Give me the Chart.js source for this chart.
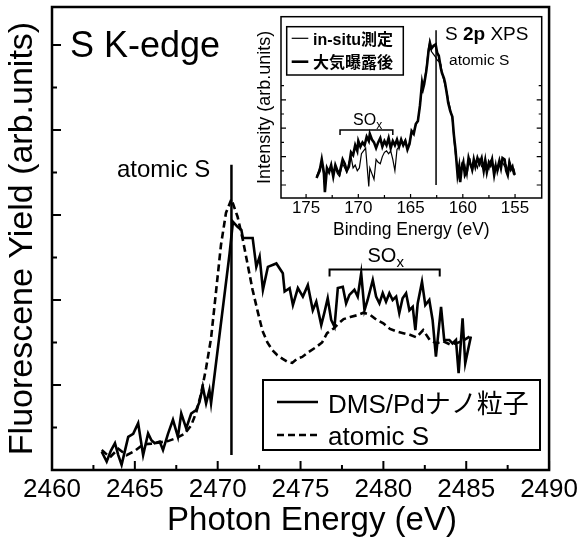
<!DOCTYPE html>
<html><head><meta charset="utf-8">
<script src="https://cdn.jsdelivr.net/npm/chart.js@4.4.1/dist/chart.umd.min.js"></script>
<style>
html,body{margin:0;padding:0;background:#fff;}
#wrap{position:relative;width:582px;height:542px;overflow:hidden;}
#main{position:absolute;left:0;top:0;}
#inset{position:absolute;left:240px;top:0;}
</style></head><body>
<div id="wrap"><canvas id="main" width="582" height="542"></canvas><canvas id="inset" width="320" height="250"></canvas></div>
<script>
const FONT = "'Liberation Sans', Arial, 'Noto Sans CJK JP', sans-serif";

// ---------- main chart data ----------
const mainSeriesNames = ["DMS/Pdナノ粒子", "atomic S"];
const mainXTitle = "Photon Energy (eV)";
const mainXTicks = [2460, 2465, 2470, 2475, 2480, 2485, 2490];
const mainXTickLabels = ["2460", "2465", "2470", "2475", "2480", "2485", "2490"];
const mainXMinorTicks = [2462.5, 2467.5, 2472.5, 2477.5, 2482.5, 2487.5];
const mainYMajorTicks = [2, 4, 6, 8, 10];
const mainYMinorTicks = [1, 3, 5, 7, 9];

const dmsX = [2463.0,2463.3,2463.55,2463.8,2464.0,2464.2,2464.4,2464.6,2464.9,2465.2,2465.5,2465.8,2466.0,2466.2,2466.5,2466.7,2467.0,2467.3,2467.6,2467.8,2468.1,2468.4,2468.7,2468.9,2469.1,2469.3,2469.5,2469.6,2470.72,2470.92,2471.2,2471.43,2471.52,2471.93,2472.11,2472.33,2472.53,2472.73,2473.03,2473.54,2473.93,2474.04,2474.34,2474.54,2474.84,2475.14,2475.44,2475.74,2475.95,2476.25,2476.45,2476.64,2476.85,2477.05,2477.25,2477.55,2477.75,2477.95,2478.25,2478.45,2478.66,2478.86,2479.05,2479.36,2479.56,2479.76,2479.96,2480.16,2480.36,2480.56,2480.77,2480.96,2481.16,2481.37,2481.57,2481.77,2481.93,2482.07,2482.33,2482.53,2482.77,2482.97,2483.17,2483.48,2483.67,2483.98,2484.17,2484.38,2484.54,2484.78,2484.94,2485.28];
const dmsY = [0.43,0.20,0.45,0.63,0.35,0.12,0.45,0.78,0.85,1.10,0.35,0.86,0.70,0.63,0.67,0.47,0.85,1.18,0.78,1.33,0.98,1.33,1.41,1.60,1.96,1.57,1.88,1.57,5.10,5.84,5.72,5.65,5.46,5.46,5.46,4.78,5.02,4.24,4.78,4.86,4.63,4.20,4.28,3.88,4.28,4.08,4.35,3.76,3.96,3.41,3.72,4.04,3.53,3.37,4.28,4.31,3.92,4.12,4.24,4.08,4.63,3.76,4.00,4.47,4.08,3.92,4.16,3.96,4.16,4.00,4.08,3.69,4.04,4.16,3.76,3.84,3.29,3.92,4.43,3.88,4.00,3.53,2.67,3.84,3.06,3.06,2.98,3.06,2.28,3.57,2.51,3.14];

const atomX = [2463.0,2463.5,2464.0,2464.5,2465.0,2465.5,2466.0,2466.5,2467.0,2467.5,2468.0,2468.4,2468.7,2469.0,2469.3,2469.6,2469.9,2470.2,2470.5,2470.83,2471.2,2471.5,2471.8,2472.1,2472.4,2472.7,2473.0,2473.3,2473.6,2473.9,2474.2,2474.5,2474.8,2475.1,2475.5,2475.9,2476.3,2476.6,2477.0,2477.3,2477.6,2478.0,2478.4,2478.8,2479.2,2479.6,2480.0,2480.4,2480.8,2481.2,2481.6,2482.0,2482.4,2482.8,2483.2,2483.6,2484.0,2484.4,2484.8,2485.2];
const atomY = [0.47,0.30,0.50,0.35,0.45,0.60,0.62,0.65,0.68,0.75,0.85,1.05,1.35,1.80,2.40,3.10,4.20,5.30,6.05,6.37,5.96,5.45,4.85,4.25,3.75,3.28,3.00,2.82,2.70,2.62,2.55,2.52,2.62,2.66,2.78,2.88,3.00,3.22,3.33,3.45,3.55,3.60,3.64,3.70,3.65,3.53,3.45,3.32,3.26,3.22,3.18,3.12,3.29,3.06,2.98,3.03,2.96,2.98,3.04,3.14];

const mainEdgeLineX = 2470.83;          // vertical "atomic S" marker
const mainEdgeLineY = [0.35, 7.18];
const mainSoxBracketX = [2476.75, 2483.4];
const mainSoxBracketY = [4.72, 4.55];

// ---------- inset data ----------
const insetSeriesNames = ["in-situ測定", "大気曝露後"];
const insetXTicks = [175, 170, 165, 160, 155];
const insetXTickLabels = ["175", "170", "165", "160", "155"];
const insetXMinorTicks = [172.5, 167.5, 162.5, 157.5];
const insetYMajorTicks = [0, 2, 4, 6];
const insetYMinorTicks = [1, 3, 5, 7];

const airX = [174.0,173.7,173.5,173.3,173.2,173.0,172.8,172.6,172.4,172.2,172.0,171.8,171.5,171.3,171.1,170.9,170.7,170.5,170.3,170.1,170.0,169.8,169.6,169.4,169.2,169.0,168.9,168.7,168.5,168.3,168.1,167.9,167.7,167.5,167.3,167.1,166.9,166.7,166.5,166.3,166.1,165.9,165.7,165.5,165.3,165.1,164.9,164.7,164.5,164.3,164.1,163.9,163.8,163.7,163.5,163.4,163.3,163.15,163.0,162.8,162.6,162.45,162.3,162.1,162.0,161.8,161.7,161.5,161.4,161.2,161.0,160.85,160.7,160.5,160.35,160.25,160.1,159.95,159.8,159.6,159.45,159.3,159.1,158.95,158.8,158.6,158.4,158.2,158.0,157.85,157.7,157.5,157.35,157.2,157.0,156.85,156.7,156.5,156.35,156.2,156.0,155.85,155.7,155.55,155.4,155.25,155.1,155.0];
const airY = [0.5,1.0,1.8,0.9,-0.5,1.2,0.9,1.4,0.6,1.4,1.0,0.8,1.8,1.5,1.0,1.3,2.3,2.1,2.8,2.4,3.1,2.7,3.0,2.8,3.4,3.1,3.6,3.2,3.0,2.6,3.0,3.3,2.7,3.1,2.8,3.3,2.6,3.1,2.8,3.2,2.7,3.2,2.8,3.1,2.5,2.9,3.8,3.6,4.3,4.5,5.6,7.2,6.8,7.1,8.0,8.6,9.3,10.0,9.6,9.8,9.9,9.3,9.1,8.2,7.9,7.5,7.2,6.3,5.8,5.2,4.8,3.5,2.5,0.7,1.3,0.2,1.2,1.6,0.7,1.0,1.9,1.5,1.1,1.8,1.3,1.9,1.5,1.9,1.0,1.7,0.9,1.6,1.4,1.8,0.7,1.3,1.1,1.7,1.2,1.9,1.8,1.0,0.7,1.5,1.1,1.3,0.8,0.7];

const insituX = [174.0,173.7,173.5,173.3,173.2,173.0,172.8,172.6,172.4,172.2,172.0,171.8,171.5,171.3,171.1,170.9,170.7,170.5,170.3,170.1,169.9,169.7,169.5,169.3,169.1,169.0,168.9,168.7,168.5,168.3,168.1,167.9,167.7,167.5,167.3,167.1,166.9,166.7,166.5,166.3,166.1,165.9,165.7,165.5,165.3,165.1,164.9,164.7,164.5,164.3,164.1,163.9,163.8,163.7,163.5,163.4,163.3,163.15,163.0,162.8,162.6,162.45,162.3,162.1,162.0,161.8,161.7,161.5,161.4,161.2,161.0,160.85,160.7,160.5,160.35,160.25,160.1,159.95,159.8,159.6,159.45,159.3,159.1,158.95,158.8,158.6,158.4,158.2,158.0,157.85,157.7,157.5,157.35,157.2,157.0,156.85,156.7,156.5,156.35,156.2,156.0,155.85,155.7,155.55,155.4,155.25,155.1,155.0];
const insituY = [0.6,1.2,1.5,0.7,-0.3,1.0,1.1,1.2,0.8,1.2,0.8,0.6,1.5,1.2,0.9,1.6,2.0,1.2,1.4,1.0,1.2,2.2,2.4,2.6,0.8,-0.1,1.2,0.8,0.4,1.8,1.6,1.5,2.0,2.3,2.4,2.2,2.4,1.8,1.0,2.5,2.7,3.0,2.9,3.2,2.6,3.0,3.6,3.7,4.2,4.6,5.5,7.0,7.1,7.3,8.2,8.9,9.6,10.1,9.4,9.2,9.0,8.8,8.7,8.5,8.0,7.3,7.0,6.5,6.0,5.4,4.6,3.2,2.1,1.2,0.5,0.8,1.5,1.2,1.4,0.6,1.6,1.8,0.9,1.5,1.6,1.2,1.8,1.3,1.2,1.9,1.3,1.1,1.7,1.5,1.0,1.6,0.8,1.4,1.5,1.6,1.3,1.4,1.0,1.8,1.4,1.0,1.1,0.8];

const insetEdgeLineX = 162.56;
const insetEdgeLineY = [0, 10.9];
const insetSoxBracketX = [171.75, 166.7];
const insetSoxBracketY = [3.87, 3.52];

const zip = (xs, ys) => xs.map((x, i) => ({x, y: ys[i]}));

// ---------- plugin: frame + inward ticks ----------
function frameTicks(cfg) {
  return {
    id: 'frameTicks' + cfg.tag,
    afterDatasetsDraw(chart) {
      const {ctx, chartArea: a, scales: {x, y}} = chart;
      ctx.save();
      ctx.strokeStyle = '#000';
      ctx.lineWidth = cfg.tickWidth;
      ctx.beginPath();
      const xt = (vals, len) => vals.forEach(v => {
        const p = x.getPixelForValue(v);
        ctx.moveTo(p, a.bottom); ctx.lineTo(p, a.bottom - len);
      });
      const yt = (vals, len, both) => vals.forEach(v => {
        const p = y.getPixelForValue(v);
        ctx.moveTo(a.left, p); ctx.lineTo(a.left + len, p);
        if (both) { ctx.moveTo(a.right, p); ctx.lineTo(a.right - len, p); }
      });
      xt(cfg.xMajor, cfg.xMajorLen); xt(cfg.xMinor, cfg.xMinorLen);
      yt(cfg.yMajor, cfg.yMajorLen, cfg.bothY); yt(cfg.yMinor, cfg.yMinorLen, cfg.bothY);
      ctx.stroke();
      ctx.lineWidth = cfg.frameWidth;
      ctx.strokeRect(a.left, a.top, a.right - a.left, a.bottom - a.top);
      ctx.restore();
    }
  };
}

// ---------- main annotations ----------
const mainAnno = {
  id: 'mainAnno',
  afterDatasetsDraw(chart) {
    const {ctx, scales: {x, y}} = chart;
    ctx.save();
    ctx.strokeStyle = '#000'; ctx.fillStyle = '#000';
    // vertical marker
    ctx.lineWidth = 2.5;
    ctx.beginPath();
    ctx.moveTo(x.getPixelForValue(mainEdgeLineX), y.getPixelForValue(mainEdgeLineY[0]));
    ctx.lineTo(x.getPixelForValue(mainEdgeLineX), y.getPixelForValue(mainEdgeLineY[1]));
    ctx.stroke();
    // SOx bracket
    ctx.lineWidth = 2;
    const bx0 = x.getPixelForValue(mainSoxBracketX[0]), bx1 = x.getPixelForValue(mainSoxBracketX[1]);
    const by0 = y.getPixelForValue(mainSoxBracketY[0]), by1 = y.getPixelForValue(mainSoxBracketY[1]);
    ctx.beginPath();
    ctx.moveTo(bx0, by1); ctx.lineTo(bx0, by0); ctx.lineTo(bx1, by0); ctx.lineTo(bx1, by1);
    ctx.stroke();
    ctx.textBaseline = 'alphabetic'; ctx.textAlign = 'left';
    // titles
    ctx.font = '36px ' + FONT;
    ctx.fillText('S K-edge', x.getPixelForValue(2461.08), y.getPixelForValue(9.72));
    ctx.font = '24px ' + FONT;
    ctx.fillText('atomic S', x.getPixelForValue(2463.92), y.getPixelForValue(6.90));
    ctx.font = '20px ' + FONT;
    const sx = x.getPixelForValue(2479.04), sy = y.getPixelForValue(4.89);
    ctx.fillText('SO', sx, sy);
    const w = ctx.measureText('SO').width;
    ctx.font = '15px ' + FONT;
    ctx.fillText('x', sx + w, sy + 5);
    // x-axis title (slightly right of centre, as in the original)
    ctx.font = '33px ' + FONT;
    ctx.textAlign = 'center'; ctx.textBaseline = 'middle';
    ctx.fillText(mainXTitle, 312, 521);
    ctx.textAlign = 'left'; ctx.textBaseline = 'alphabetic';
    // legend
    ctx.fillStyle = '#fff';
    ctx.fillRect(263, 380, 277, 70);
    ctx.fillStyle = '#000';
    ctx.lineWidth = 2;
    ctx.strokeRect(263, 380, 277, 70);
    const ds = chart.data.datasets;
    const rows = [[402, 413], [435, 445]];
    ds.forEach((d, i) => {
      ctx.lineWidth = d.borderWidth;
      ctx.setLineDash(d.borderDash || []);
      ctx.beginPath(); ctx.moveTo(277, rows[i][0]); ctx.lineTo(318, rows[i][0]); ctx.stroke();
      ctx.setLineDash([]);
      ctx.font = '26px ' + FONT;
      ctx.fillText(d.label, 328, rows[i][1]);
    });
    ctx.restore();
  }
};

new Chart(document.getElementById('main'), {
  type: 'line',
  data: {
    datasets: [
      {label: mainSeriesNames[0], data: zip(dmsX, dmsY), borderColor: '#000', borderWidth: 2.6, pointRadius: 0, tension: 0, fill: false},
      {label: mainSeriesNames[1], data: zip(atomX, atomY), borderColor: '#000', borderWidth: 2.6, borderDash: [7, 4], pointRadius: 0, tension: 0, fill: false}
    ]
  },
  options: {
    responsive: false, animation: false, devicePixelRatio: 1,
    layout: {padding: {top: 7, right: 32, left: 0, bottom: 0}},
    plugins: {legend: {display: false}, tooltip: {enabled: false}},
    scales: {
      x: {
        type: 'linear', min: 2460, max: 2490,
        grid: {display: false, drawTicks: false, tickLength: 0}, border: {display: false},
        afterBuildTicks: s => { s.ticks = mainXTicks.map(v => ({value: v})); },
        afterFit: s => { s.height = 72; },
        ticks: {autoSkip: false, maxRotation: 0, padding: 4, color: '#000', font: {family: FONT, size: 26},
                callback: (v, i) => mainXTickLabels[i]},
        title: {display: false}
      },
      y: {
        type: 'linear', min: 0, max: 10.894,
        grid: {display: false, drawTicks: false, tickLength: 0}, border: {display: false},
        ticks: {display: false},
        afterFit: s => { s.width = 52; },
        title: {display: true, text: 'Fluorescene Yield (arb.units)', color: '#000', font: {family: FONT, size: 34}, padding: {top: 2, bottom: 0}}
      }
    }
  },
  plugins: [frameTicks({tag: 'm', xMajor: mainXTicks, xMinor: mainXMinorTicks, yMajor: mainYMajorTicks, yMinor: mainYMinorTicks,
    xMajorLen: 9, xMinorLen: 5, yMajorLen: 9, yMinorLen: 5, bothY: false, tickWidth: 2, frameWidth: 2.5}), mainAnno]
});

// ---------- inset annotations ----------
const insetAnno = {
  id: 'insetAnno',
  afterDatasetsDraw(chart) {
    const {ctx, scales: {x, y}} = chart;
    const ox = 240; // canvas left offset in page
    ctx.save();
    ctx.strokeStyle = '#000'; ctx.fillStyle = '#000';
    ctx.lineWidth = 1.5;
    ctx.beginPath();
    ctx.moveTo(x.getPixelForValue(insetEdgeLineX), y.getPixelForValue(insetEdgeLineY[0]));
    ctx.lineTo(x.getPixelForValue(insetEdgeLineX), y.getPixelForValue(insetEdgeLineY[1]));
    ctx.stroke();
    const bx0 = x.getPixelForValue(insetSoxBracketX[0]), bx1 = x.getPixelForValue(insetSoxBracketX[1]);
    const by0 = y.getPixelForValue(insetSoxBracketY[0]), by1 = y.getPixelForValue(insetSoxBracketY[1]);
    ctx.beginPath();
    ctx.moveTo(bx0, by1); ctx.lineTo(bx0, by0); ctx.lineTo(bx1, by0); ctx.lineTo(bx1, by1);
    ctx.stroke();
    ctx.textAlign = 'left'; ctx.textBaseline = 'alphabetic';
    ctx.font = '16px ' + FONT;
    const sx = x.getPixelForValue(170.5), sy = y.getPixelForValue(4.23);
    ctx.fillText('SO', sx, sy);
    const w = ctx.measureText('SO').width;
    ctx.font = '12px ' + FONT;
    ctx.fillText('x', sx + w, sy + 4);
    // S 2p XPS
    let tx = x.getPixelForValue(161.7); const ty = y.getPixelForValue(10.21);
    ctx.font = '19px ' + FONT;
    ctx.fillText('S ', tx, ty); tx += ctx.measureText('S ').width;
    ctx.font = 'bold 19px ' + FONT;
    ctx.fillText('2p', tx, ty); tx += ctx.measureText('2p').width;
    ctx.font = '19px ' + FONT;
    ctx.fillText(' XPS', tx, ty);
    ctx.font = '15.5px ' + FONT;
    ctx.fillText('atomic S', x.getPixelForValue(161.32), y.getPixelForValue(8.45));
    // legend box
    ctx.fillStyle = '#fff';
    ctx.fillRect(286.7 - ox, 26.7, 116.6, 48.3);
    ctx.fillStyle = '#000';
    ctx.lineWidth = 1.5;
    ctx.strokeRect(286.7 - ox, 26.7, 116.6, 48.3);
    const rows = [[38.3, 45], [61.7, 68]];
    chart.data.datasets.forEach((d, i) => {
      ctx.lineWidth = d.borderWidth;
      ctx.beginPath(); ctx.moveTo(291.7 - ox, rows[i][0]); ctx.lineTo(308.3 - ox, rows[i][0]); ctx.stroke();
      ctx.font = 'bold 16px ' + FONT;
      ctx.fillText(d.label, 313 - ox, rows[i][1]);
    });
    ctx.restore();
  }
};

new Chart(document.getElementById('inset'), {
  type: 'line',
  data: {
    datasets: [
      {label: insetSeriesNames[0], data: zip(insituX, insituY), borderColor: '#000', borderWidth: 1.2, pointRadius: 0, tension: 0, fill: false},
      {label: insetSeriesNames[1], data: zip(airX, airY), borderColor: '#000', borderWidth: 2.6, pointRadius: 0, tension: 0, fill: false}
    ]
  },
  options: {
    responsive: false, animation: false, devicePixelRatio: 1,
    layout: {padding: {top: 16.7, right: 18.3, left: 0, bottom: 0}},
    plugins: {legend: {display: false}, tooltip: {enabled: false}},
    scales: {
      x: {
        type: 'linear', reverse: true, min: 152.45, max: 177.4,
        grid: {display: false, drawTicks: false, tickLength: 0}, border: {display: false},
        afterBuildTicks: s => { s.ticks = insetXTicks.map(v => ({value: v})); },
        afterFit: s => { s.height = 52; },
        ticks: {autoSkip: false, maxRotation: 0, padding: 0, color: '#000', font: {family: FONT, size: 17},
                callback: (v, i) => insetXTickLabels[i]},
        title: {display: true, text: 'Binding Energy (eV)', color: '#000', font: {family: FONT, size: 17.5}, padding: {top: 0, bottom: 9}}
      },
      y: {
        type: 'linear', min: -0.915, max: 11.85,
        grid: {display: false, drawTicks: false, tickLength: 0}, border: {display: false},
        ticks: {display: false},
        afterFit: s => { s.width = 41; },
        title: {display: true, text: 'Intensity (arb.units)', color: '#000', font: {family: FONT, size: 18}, padding: {top: 14, bottom: 0}}
      }
    }
  },
  plugins: [frameTicks({tag: 'i', xMajor: insetXTicks, xMinor: insetXMinorTicks, yMajor: insetYMajorTicks, yMinor: insetYMinorTicks,
    xMajorLen: 4, xMinorLen: 3, yMajorLen: 5, yMinorLen: 3, bothY: true, tickWidth: 1.2, frameWidth: 1.5}), insetAnno]
});
</script>
</body></html>
